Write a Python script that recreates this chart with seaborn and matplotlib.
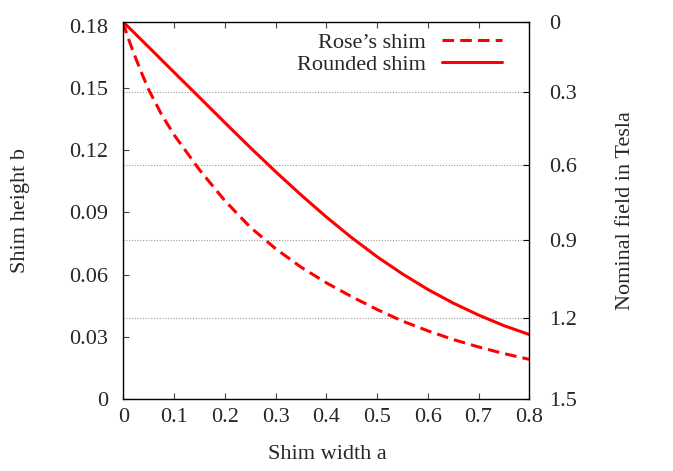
import numpy as np
import pandas as pd
import matplotlib
matplotlib.use("Agg")
import matplotlib.pyplot as plt
import seaborn as sns

# ---- data ----
rose_x = [0, 0.005, 0.01, 0.02, 0.035, 0.05, 0.075, 0.1, 0.15, 0.2, 0.25, 0.3,
          0.35, 0.4, 0.45, 0.5, 0.55, 0.6, 0.65, 0.7, 0.75, 0.8]
rose_b = [0.182, 0.1775, 0.1740, 0.1673, 0.1580, 0.1493, 0.1375, 0.1275, 0.1106,
          0.0957, 0.0829, 0.0725, 0.0636, 0.0560, 0.0493, 0.0431, 0.0375, 0.0328,
          0.0286, 0.0250, 0.0218, 0.0190]

rounded_x = [0, 0.05, 0.1, 0.15, 0.2, 0.25, 0.3, 0.35, 0.4, 0.45, 0.5, 0.55,
             0.6, 0.65, 0.7, 0.75, 0.8]
rounded_b = [0.182, 0.1699, 0.1577, 0.1456, 0.1334, 0.1214, 0.1097, 0.0985, 0.0878,
             0.0778, 0.0686, 0.0603, 0.0528, 0.0462, 0.0404, 0.0353, 0.0310]

x_ticks = [0, 0.1, 0.2, 0.3, 0.4, 0.5, 0.6, 0.7, 0.8]
x_ticklabels = ["0", "0.1", "0.2", "0.3", "0.4", "0.5", "0.6", "0.7", "0.8"]
b_ticks = [0, 0.03, 0.06, 0.09, 0.12, 0.15, 0.18]
b_ticklabels = ["0", "0.03", "0.06", "0.09", "0.12", "0.15", "0.18"]
field_labels = ["0", "0.3", "0.6", "0.9", "1.2", "1.5"]
field_tick_heights = [0.182, 0.1482, 0.1129, 0.0766, 0.0390, 0.0]

series_names = ["Rose\u2019s shim", "Rounded shim"]

df = pd.concat([
    pd.DataFrame({"a": rose_x, "b": rose_b, "shim": series_names[0]}),
    pd.DataFrame({"a": rounded_x, "b": rounded_b, "shim": series_names[1]}),
])

FS = 16
sns.set_style("ticks")
plt.rcParams["font.family"] = ["Liberation Serif", "DejaVu Serif"]
plt.rcParams["font.size"] = FS

fig = plt.figure(figsize=(6.73, 4.71), dpi=100)
ax = fig.add_axes([0.1832, 0.1535, 0.6033, 0.7998])

lw = 2.2
sns.lineplot(data=df, x="a", y="b", hue="shim", style="shim",
             palette={series_names[0]: "#ff0000", series_names[1]: "#ff0000"},
             dashes={series_names[0]: (3.8, 2.0), series_names[1]: ""},
             linewidth=lw, ax=ax, legend=True, sort=False)

ax.set_xlim(0, 0.8)
ax.set_ylim(0, 0.182)
ax.set_xticks(x_ticks)
ax.set_xticklabels(x_ticklabels)
ax.set_yticks(b_ticks)
ax.set_yticklabels(b_ticklabels)

for s in ax.spines.values():
    s.set_visible(True)
    s.set_color("black")
    s.set_linewidth(1.0)

ax.tick_params(axis="x", direction="in", top=True, bottom=True, length=4,
               width=0.8, color="#444444", pad=7, labelsize=FS)
ax.tick_params(axis="y", direction="in", left=True, right=False, length=4,
               width=0.8, color="#444444", pad=11, labelsize=FS)

# dotted grid at the field ticks
ax.hlines(field_tick_heights[1:-1], 0, 0.8, colors="#999999",
          linestyles=(0, (1, 1.5)), linewidth=0.8, zorder=1)

ax2 = ax.twinx()
ax2.set_ylim(0, 0.182)
ax2.set_yticks(field_tick_heights)
ax2.set_yticklabels(field_labels)
ax2.tick_params(axis="y", direction="in", right=True, length=4.5, width=0.8,
                color="black", pad=14, labelsize=FS)
for s in ax2.spines.values():
    s.set_visible(False)

ax.set_xlabel("Shim width a", fontsize=FS)
ax.xaxis.set_label_coords(0.502, -0.122)
ax.set_ylabel("Shim height b", fontsize=FS, va="center")
ax.yaxis.set_label_coords(-0.252, 0.5)
ax2.set_ylabel("Nominal field in Tesla", fontsize=FS, va="center")
ax2.yaxis.set_label_coords(1.238, 0.5)

handles, labels = ax.get_legend_handles_labels()
leg = ax.legend(handles, labels, loc="upper right",
                bbox_to_anchor=(0.933, 0.973), frameon=False, markerfirst=False,
                handlelength=2.7, handletextpad=0.72, labelspacing=0.06,
                borderpad=0, borderaxespad=0, fontsize=FS)
for line in leg.get_lines():
    line.set_linewidth(lw)

fig.savefig("out.png", dpi=100)
